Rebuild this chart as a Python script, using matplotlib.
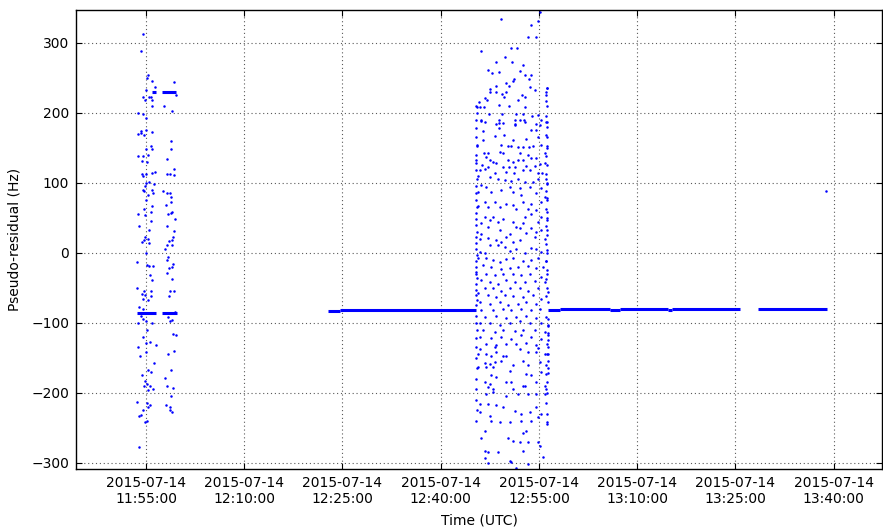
import numpy as np
import matplotlib
matplotlib.use("Agg")
import matplotlib.pyplot as plt
import matplotlib.dates as mdates

day = "2015-07-14"

# first burst: (seconds after 11:55:00, pseudo-residual Hz)
burst1_base = "11:55:00"
burst1 = [
    (-31, 312), (-49, 288), (15, 254), (6, 250), (58, 245), (259, 244), (82, 237), (-31, 223),
    (0, 233), (30, 223), (43, 223), (-9, 218), (58, 219), (52, 210), (168, 210), (275, 225),
    (241, 202), (-70, 200), (-31, 198), (0, 193), (-70, 170), (-49, 171), (-18, 168), (-49, 174),
    (52, 172), (0, 176), (226, 160), (0, 149), (43, 153), (52, 148), (226, 148), (-70, 138),
    (-24, 138), (15, 140), (-40, 131), (6, 130), (195, 134), (256, 120), (220, 112), (259, 111),
    (189, 112), (-40, 112), (-24, 110), (0, 113), (58, 114), (82, 115), (0, 100), (27, 101),
    (73, 99), (-9, 95), (-24, 90), (-18, 88), (58, 90), (61, 86), (159, 88), (189, 86),
    (220, 86), (226, 80), (226, 73), (183, 68), (235, 59), (265, 48), (15, 82), (0, 76),
    (-15, 63), (-70, 56), (52, 67), (43, 59), (-9, 54), (49, 46), (30, 33), (-61, 38),
    (226, 57), (198, 55), (256, 31), (189, 38), (-9, 23), (-18, 19), (21, 20), (27, 14),
    (-40, 15), (235, 19), (250, 22), (214, 17), (174, 6), (189, 11), (235, 11), (-85, -13),
    (12, -18), (0, -1), (30, -19), (61, -19), (204, -6), (189, -11), (250, -16), (214, -22),
    (235, -20), (36, -32), (58, -39), (189, -29), (235, -37), (-79, -50), (-18, -54), (-9, -61),
    (43, -55), (43, -62), (-40, -59), (21, -68), (-24, -66), (220, -55), (259, -55), (211, -62),
    (265, -85), (204, -92), (220, -97), (235, -96), (-61, -78), (-24, -80), (-49, -90), (-24, -94),
    (-70, -100), (0, -97), (52, -101), (6, -111), (-24, -121), (0, -129), (36, -128), (91, -132),
    (-70, -135), (-55, -147), (0, -142), (73, -158), (21, -168), (43, -171), (-40, -174), (250, -116),
    (272, -118), (256, -140), (204, -144), (226, -168), (174, -179), (195, -190), (250, -193), (-9, -183),
    (-15, -191), (6, -188), (36, -190), (67, -194), (21, -196), (-79, -213), (6, -214), (15, -220),
    (36, -218), (-24, -225), (-49, -232), (-61, -233), (-9, -242), (12, -241), (226, -204), (183, -218),
    (220, -220), (220, -225), (235, -227), (-61, -278),
]

# second burst: (seconds after 12:45:00, pseudo-residual Hz)
burst2_base = "12:45:00"
burst2 = [
    (249, 334), (606, 344), (589, 331), (530, 325), (499, 309), (576, 308), (66, 288), (347, 293),
    (402, 293), (292, 280), (210, 273), (356, 272), (454, 268), (133, 261), (173, 257), (231, 259),
    (423, 260), (469, 254), (524, 254), (371, 249), (362, 246), (506, 248), (301, 243), (210, 238),
    (325, 238), (515, 237), (677, 236), (148, 234), (567, 233), (668, 230), (148, 230), (208, 230),
    (295, 230), (265, 227), (448, 226), (277, 223), (469, 222), (408, 219), (661, 217), (109, 221),
    (51, 216), (127, 219), (234, 211), (325, 210), (93, 208), (32, 208), (475, 208), (57, 209),
    (139, 199), (261, 199), (393, 199), (454, 198), (591, 197), (539, 195), (72, 190), (234, 190),
    (377, 190), (423, 190), (460, 190), (103, 187), (270, 186), (677, 187), (622, 190), (570, 184),
    (384, 184), (208, 184),
    (72, 188), (234, 186), (377, 183), (469, 187), (606, 183), (667, 187), (234, 179), (530, 176),
    (576, 175), (87, 174), (280, 169), (194, 167), (484, 163), (591, 166), (675, 165), (87, 161),
    (362, 161), (32, 154), (255, 154), (316, 152), (347, 153), (408, 151), (454, 151), (506, 151),
    (545, 152), (622, 154), (675, 153), (240, 144), (271, 142), (133, 142), (93, 142), (423, 143),
    (499, 140), (652, 143), (26, 132), (118, 137), (148, 132), (179, 130), (209, 129), (316, 132),
    (362, 130), (408, 132), (454, 133), (530, 135), (576, 136), (81, 125), (103, 120), (133, 122),
    (271, 123), (325, 123), (377, 123), (484, 124), (560, 124), (606, 127), (652, 128), (57, 118),
    (194, 114), (295, 116), (371, 114), (454, 118), (515, 118), (591, 114), (631, 114), (41, 110),
    (148, 109), (225, 106), (286, 104), (347, 103), (408, 105), (469, 101), (545, 101), (591, 105),
    (667, 106), (72, 97), (118, 94), (255, 90), (331, 94), (423, 92), (515, 94), (622, 92),
    (675, 99), (41, 87), (164, 87), (362, 87), (438, 82), (576, 86), (652, 80), (103, 73),
    (194, 73), (301, 70), (362, 68), (454, 73), (530, 70), (622, 73), (677, 78), (41, 67),
    (133, 66), (240, 65), (393, 63), (499, 63), (576, 61), (677, 58), (103, 51), (179, 51),
    (271, 49), (469, 51), (530, 56), (622, 51), (72, 42), (148, 47), (225, 44), (362, 44),
    (454, 42), (591, 44), (675, 47), (133, 37), (240, 33), (393, 37), (423, 35), (530, 35),
    (622, 32), (72, 27), (331, 27), (484, 28), (576, 30), (677, 33),
    (57, 20), (133, 21), (209, 19), (255, 16), (301, 23), (362, 15), (423, 18), (560, 23),
    (652, 20), (148, 11), (225, 11), (286, 8), (393, 6), (530, 7), (576, 5), (57, 1),
    (103, -1), (331, 2), (469, 0), (622, 1), (675, 4), (41, -8), (118, -8), (179, -11),
    (240, -13), (301, -9), (362, -8), (454, -12), (530, -11), (591, -8), (667, -12), (87, -18),
    (164, -20), (255, -23), (331, -22), (408, -20), (499, -19), (576, -22), (637, -20), (26, -30),
    (118, -30), (194, -32), (271, -31), (362, -30), (438, -32), (515, -30), (622, -35), (675, -30),
    (72, -39), (148, -42), (225, -44), (301, -39), (377, -42), (469, -42), (560, -41), (652, -42),
    (103, -51), (179, -51), (255, -54), (331, -51), (423, -51), (499, -54), (591, -51), (678, -56),
    (41, -58), (133, -61), (209, -63), (286, -61), (362, -62), (454, -63), (545, -61), (622, -66),
    (57, -70), (148, -73), (240, -70), (316, -75), (408, -73), (484, -70), (576, -73), (72, -82),
    (179, -82), (271, -81), (347, -82), (438, -80), (530, -82), (606, -80), (103, -92), (209, -90),
    (301, -93), (393, -92), (484, -90), (576, -93), (667, -92), (57, -101), (148, -100), (240, -103),
    (331, -100), (423, -98), (515, -100), (622, -101), (678, -103), (87, -111), (194, -113), (271, -111),
    (377, -112), (454, -110), (560, -111), (652, -113), (57, -121), (164, -122), (255, -121), (347, -123),
    (438, -118), (530, -121), (622, -123), (678, -118), (118, -130), (209, -132), (301, -130), (393, -131),
    (484, -129), (576, -132), (675, -130), (57, -137), (194, -135), (423, -137), (591, -136),
    (41, -144), (118, -144), (164, -147), (209, -142), (271, -147), (301, -147), (454, -154), (499, -142),
    (576, -142), (652, -144), (676, -145), (103, -158), (148, -159), (194, -156), (255, -154), (362, -161),
    (499, -161), (606, -156), (667, -161), (41, -163), (118, -163), (179, -163), (331, -169), (484, -173),
    (530, -175), (622, -171), (667, -173), (164, -175), (209, -178), (103, -184), (148, -187), (301, -185),
    (347, -185), (454, -190), (576, -185), (652, -190), (133, -192), (179, -194), (362, -194), (469, -191),
    (667, -194), (118, -202), (179, -199), (301, -205), (408, -202), (499, -202), (576, -202), (652, -202),
    (57, -216), (133, -216), (209, -218), (271, -220), (377, -226), (438, -230), (515, -228), (576, -221),
    (622, -230), (57, -228), (148, -233), (240, -242), (331, -242), (438, -240), (530, -240), (591, -235),
    (676, -242), (164, -240), (103, -254), (484, -254), (454, -258), (316, -264), (72, -264), (362, -269),
    (423, -271), (499, -271), (591, -271), (103, -283), (133, -285), (225, -285), (454, -283), (606, -276),
    (103, -293), (331, -297), (347, -299), (133, -301), (499, -302), (393, -307), (637, -292),
    # dense column at the start of the burst
    (24, 210), (28, 200), (22, 190), (26, 178), (24, 165), (28, 152), (22, 140), (26, 128),
    (24, 118), (28, 105), (22, 95), (26, 85), (24, 75), (28, 66), (22, 57), (26, 48),
    (24, 40), (28, 30), (22, 22), (26, 14), (24, 5), (28, -3), (22, -12), (26, -20),
    (24, -28), (28, -36), (22, -45), (26, -53), (24, -60), (28, -68), (22, -75), (26, -90),
    (24, -100), (28, -110), (22, -122), (26, -135), (24, -150), (28, -165), (22, -180), (26, -195),
    (24, -210), (28, -225), (22, -240),
    # dense column at the end of the burst
    (672, 235), (668, 225), (676, 210), (664, 195), (672, 180), (668, 168), (676, 150), (664, 138),
    (672, 125), (668, 112), (676, 100), (664, 88), (672, 76), (668, 62), (676, 50), (664, 38),
    (672, 25), (668, 12), (676, 0), (664, -12), (672, -25), (668, -38), (676, -50), (664, -62),
    (680, -70), (680, -95), (680, -105), (680, -115), (680, -125), (680, -135), (680, -145), (680, -155),
    (680, -165), (680, -172), (676, -185), (672, -200), (668, -215), (676, -230), (672, -245),
]

lone_time = ["13:38:46"]
lone_val = [89]

# near-constant stretches (dense samples drawn as runs)
seg_start = ["11:53:37", "11:57:23", "11:55:58", "11:57:23", "12:22:47", "12:24:37",
             "12:56:22", "12:58:12", "13:05:50", "13:07:22", "13:14:42", "13:15:18", "13:28:26"]
seg_end = ["11:56:32", "11:59:41", "11:56:32", "11:59:35", "12:24:37", "12:45:23",
           "12:58:12", "13:05:50", "13:07:22", "13:14:42", "13:15:18", "13:25:41", "13:38:58"]
seg_level = [-86, -86, 230, 230, -83, -81.5, -82, -80, -82, -80, -82, -80, -80]


def to_times(base, secs):
    t0 = np.datetime64(day + "T" + base)
    return t0 + np.array(secs).astype("timedelta64[s]")


def clock(strs):
    return np.array([np.datetime64(day + "T" + s) for s in strs])


b1_sec, b1_val = zip(*burst1)
b2_sec, b2_val = zip(*burst2)

fig = plt.figure(figsize=(8.83, 5.29), dpi=100)
ax = fig.add_axes([76 / 883, 1 - 469 / 529, 806 / 883, 459 / 529])

ax.hlines(seg_level, clock(seg_start), clock(seg_end), colors="b", linewidth=2.2)
ax.plot(to_times(burst1_base, b1_sec), b1_val, ".", color="b", ms=3.6, mew=0)
ax.plot(to_times(burst2_base, b2_sec), b2_val, ".", color="b", ms=3.6, mew=0)
ax.plot(clock(lone_time), lone_val, ".", color="b", ms=3.6, mew=0)

ax.set_xlim(np.datetime64(day + "T11:44:19"), np.datetime64(day + "T13:47:22"))
ax.set_ylim(-309, 347)
ax.set_yticks([-300, -200, -100, 0, 100, 200, 300])
ax.xaxis.set_major_locator(mdates.MinuteLocator(byminute=[10, 25, 40, 55]))
ax.xaxis.set_major_formatter(mdates.DateFormatter("%Y-%m-%d\n%H:%M:%S"))

ax.grid(True, linestyle=(0, (1, 2.5)), color="0.35", linewidth=0.8)
ax.tick_params(direction="in", top=True, right=True, labelsize=10, length=4, pad=5)
for sp in ax.spines.values():
    sp.set_linewidth(1.0)
for lab in ax.get_xticklabels():
    lab.set_horizontalalignment("center")

ax.set_xlabel("Time (UTC)", fontsize=10, labelpad=5)
ax.set_ylabel("Pseudo-residual (Hz)", fontsize=10, labelpad=7)

fig.savefig("out.png", dpi=100)
